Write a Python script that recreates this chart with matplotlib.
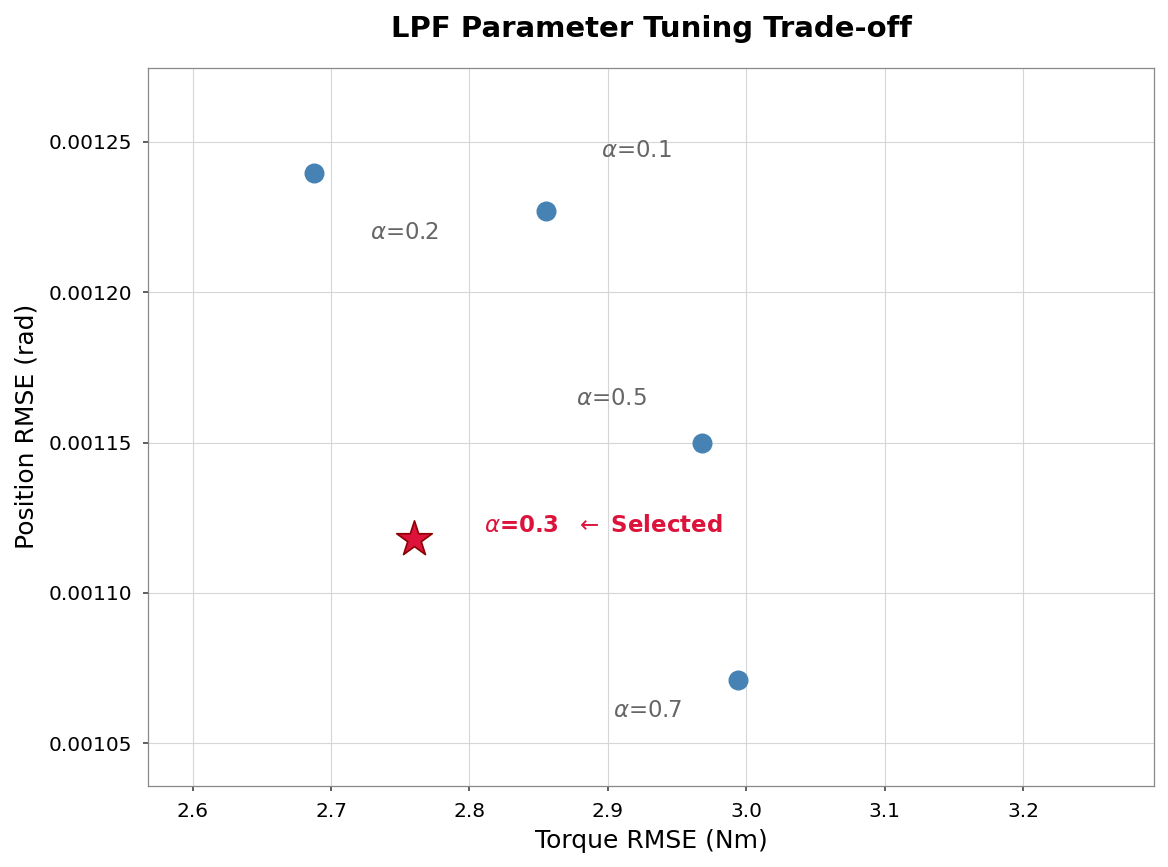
import matplotlib
matplotlib.use("Agg")
import matplotlib.pyplot as plt

# candidate filter settings (torque rmse, position rmse)
alpha_labels = ["0.1", "0.2", "0.5", "0.7"]
torque_rmse = [2.855, 2.688, 2.968, 2.994]
pos_rmse = [0.001227, 0.0012397, 0.0011498, 0.001071]
label_offsets = [(55, 60), (56, -60), (-126, 45), (-125, -30)]

sel_alpha = "0.3"
sel_torque = 2.760
sel_pos = 0.0011179

fig, ax = plt.subplots(figsize=(11.68, 8.67), dpi=100)

ax.scatter(torque_rmse, pos_rmse, s=180, color="#4682B4", zorder=3)
for lab, x, y, off in zip(alpha_labels, torque_rmse, pos_rmse, label_offsets):
    ax.annotate(r"$\alpha$=" + lab, (x, y), xytext=off, textcoords="offset pixels",
                fontsize=16.5, color="#666666", va="center", ha="left")

ax.scatter([sel_torque], [sel_pos], marker="*", s=720, color="#DC143C",
           edgecolor="#8B0000", linewidth=1.2, zorder=4)
ax.annotate(r"$\alpha$=" + sel_alpha + r"  $\leftarrow$ Selected", (sel_torque, sel_pos),
            xytext=(70, 14), textcoords="offset pixels", fontsize=16.5,
            fontweight="bold", color="#DC143C", va="center", ha="left")

ax.set_xlim(2.568, 3.2946)
ax.set_ylim(0.001036, 0.0012746)
ax.set_xticks([2.6, 2.7, 2.8, 2.9, 3.0, 3.1, 3.2])
ax.set_yticks([0.00105, 0.00110, 0.00115, 0.00120, 0.00125])
ax.set_yticklabels(["0.00105", "0.00110", "0.00115", "0.00120", "0.00125"])
ax.tick_params(labelsize=14.5, length=3.6, width=1.1, color="#333333", pad=8)
ax.grid(True, color="#d6d6d6", linewidth=0.8)
ax.set_axisbelow(True)
for sp in ax.spines.values():
    sp.set_color("#888888")
    sp.set_linewidth(0.9)

ax.set_xlabel("Torque RMSE (Nm)", fontsize=18, labelpad=6)
ax.set_ylabel("Position RMSE (rad)", fontsize=18, labelpad=7)
ax.set_title("LPF Parameter Tuning Trade-off", fontsize=21, fontweight="bold", pad=22)

fig.subplots_adjust(left=0.127, right=0.988, top=0.922, bottom=0.094)
fig.savefig("out.png", dpi=100)
